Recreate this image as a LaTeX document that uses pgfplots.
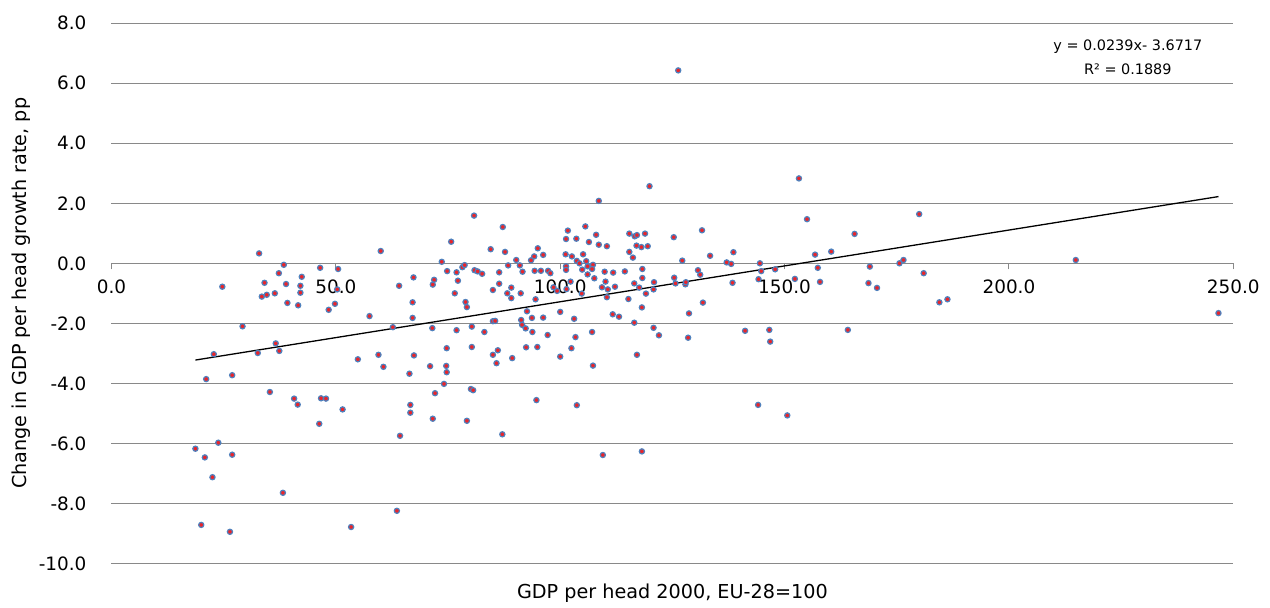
\documentclass[border=0pt]{standalone}
\usepackage{fontspec}
\setmainfont{DejaVu Sans}
\usepackage{pgfplots}
\pgfplotsset{compat=1.18}
\usetikzlibrary{calc}
\definecolor{ptfill}{RGB}{232,37,43}
\definecolor{ptdraw}{RGB}{79,129,189}
\definecolor{gridc}{RGB}{137,137,137}
\pgfplotstableread{
x y
32.9 0.33
38.4 -0.05
37.3 -0.33
46.5 -0.15
50.5 -0.19
42.4 -0.45
24.7 -0.78
34.1 -0.65
38.9 -0.69
42.1 -0.75
42.1 -0.98
33.5 -1.11
34.6 -1.05
36.4 -1.00
39.2 -1.32
41.6 -1.40
48.4 -1.55
49.8 -1.35
50.3 -0.87
29.2 -2.10
36.6 -2.67
32.6 -2.99
37.4 -2.92
22.8 -3.03
54.9 -3.20
21.1 -3.86
26.9 -3.73
35.3 -4.29
40.7 -4.51
41.5 -4.71
46.7 -4.50
47.8 -4.51
51.5 -4.87
46.3 -5.35
18.7 -6.18
23.8 -5.98
20.8 -6.47
26.9 -6.38
22.5 -7.13
38.2 -7.65
20.0 -8.72
26.4 -8.95
53.4 -8.79
60.0 0.41
75.7 0.72
84.5 0.47
73.6 0.05
67.3 -0.47
64.1 -0.75
71.9 -0.55
71.6 -0.71
74.8 -0.26
76.9 -0.30
78.2 -0.13
78.7 -0.06
77.2 -0.58
80.9 -0.23
81.6 -0.27
82.6 -0.35
86.4 -0.30
86.4 -0.68
85.0 -0.89
76.5 -1.00
78.9 -1.29
79.2 -1.46
67.1 -1.30
57.5 -1.76
67.1 -1.82
62.7 -2.13
71.5 -2.16
76.9 -2.23
80.3 -2.11
83.1 -2.29
85.0 -1.93
85.5 -1.92
59.5 -3.05
60.6 -3.45
67.4 -3.07
66.4 -3.68
71.0 -3.43
74.7 -2.83
74.6 -3.42
74.7 -3.63
80.3 -2.79
85.0 -3.05
86.1 -2.90
85.8 -3.33
74.1 -4.02
72.1 -4.33
80.1 -4.19
80.6 -4.23
66.6 -4.72
66.6 -4.98
71.6 -5.18
79.2 -5.25
64.3 -5.75
87.1 -5.70
63.6 -8.25
80.8 1.59
108.6 2.08
87.2 1.21
101.7 1.09
105.6 1.23
108.0 0.95
101.3 0.81
103.6 0.82
106.4 0.71
108.6 0.62
110.4 0.57
87.7 0.38
95.0 0.50
94.2 0.23
96.2 0.28
93.5 0.10
90.2 0.11
88.4 -0.07
91.0 -0.07
91.6 -0.28
94.3 -0.25
95.7 -0.25
97.3 -0.25
97.8 -0.33
101.2 0.30
102.6 0.23
101.3 -0.10
101.3 -0.22
103.7 0.08
105.1 0.30
104.3 0.00
104.9 -0.21
105.8 0.07
106.1 -0.10
107.3 -0.05
107.1 -0.19
106.1 -0.37
107.6 -0.50
109.9 -0.28
111.8 -0.31
110.1 -0.61
109.3 -0.80
110.6 -0.87
112.2 -0.78
110.4 -1.13
104.8 -1.01
102.3 -0.61
101.4 -0.86
99.3 -0.92
98.5 -0.80
89.1 -0.81
88.2 -1.00
89.1 -1.16
91.2 -1.00
94.5 -1.20
92.6 -1.60
93.7 -1.82
96.2 -1.81
100.0 -1.62
103.1 -1.85
91.3 -1.89
91.5 -2.05
92.3 -2.17
93.8 -2.29
97.2 -2.39
103.4 -2.46
107.1 -2.29
111.7 -1.70
113.1 -1.78
89.3 -3.16
92.4 -2.80
94.9 -2.79
100.0 -3.11
102.5 -2.83
107.3 -3.41
94.7 -4.56
103.7 -4.73
119.9 2.57
115.4 0.99
116.6 0.90
117.1 0.94
118.9 0.99
125.3 0.87
131.6 1.10
115.4 0.38
116.2 0.19
117.0 0.59
118.1 0.54
119.5 0.57
127.2 0.09
133.4 0.25
138.6 0.37
137.1 0.03
138.1 -0.02
138.4 -0.65
114.4 -0.27
118.3 -0.19
118.3 -0.49
116.5 -0.67
117.6 -0.81
120.9 -0.63
120.8 -0.87
119.1 -1.01
125.4 -0.48
125.7 -0.67
127.9 -0.70
128.0 -0.63
130.7 -0.23
131.2 -0.38
115.2 -1.19
118.2 -1.47
131.8 -1.31
116.5 -1.98
120.8 -2.15
122.0 -2.40
128.7 -1.67
128.5 -2.48
117.1 -3.05
109.5 -6.39
118.2 -6.27
126.3 6.43
153.2 2.83
155.0 1.47
165.6 0.98
180.0 1.64
144.5 0.00
144.8 -0.26
144.2 -0.53
147.9 -0.20
152.3 -0.52
156.8 0.29
157.4 -0.15
157.9 -0.62
160.4 0.39
168.7 -0.66
169.0 -0.11
170.6 -0.82
175.6 0.00
176.5 0.11
141.2 -2.25
146.6 -2.22
146.8 -2.61
164.1 -2.22
144.1 -4.72
150.6 -5.07
181.0 -0.33
184.5 -1.30
186.3 -1.20
214.9 0.11
246.7 -1.66
}\gdpdata
\begin{document}
\begin{tikzpicture}
\begin{axis}[
  scale only axis, width=560.9pt, height=270pt,
  xmin=0, xmax=250, ymin=-10, ymax=8,
  axis x line=middle, axis y line=left,
  x axis line style={-, draw=gridc, line width=0.55pt},
  y axis line style={draw=none},
  hide obscured x ticks=false,
  xtick={0,50,...,250}, ytick={-10,-8,...,8},
  xtick align=outside,
  major tick length=3pt,
  x tick style={draw=gridc, line width=0.55pt},
  ytick style={draw=none},
  ymajorgrids, grid style={draw=gridc, line width=0.55pt},
  tick label style={font=\fontsize{9.2}{11}\selectfont},
  /pgf/number format/fixed, /pgf/number format/fixed zerofill,
  /pgf/number format/precision=1, /pgf/number format/assume math mode=true,
  scaled ticks=false,
  yticklabel style={xshift=-7.5pt},
  xticklabel style={yshift=-1.75pt},
  xlabel={GDP per head 2000, EU-28=100},
  ylabel={Change in GDP per head growth rate, pp},
  every axis x label/.style={at={(axis description cs:0.5,0)}, anchor=north, yshift=-7pt, font=\fontsize{9.6}{11}\selectfont},
  every axis y label/.style={at={(axis description cs:0,0.5)}, xshift=-45.25pt, rotate=90, anchor=center, font=\fontsize{9.6}{11}\selectfont},
  clip=false,
]
\addplot[only marks, mark=*, mark size=1.3pt, mark options={fill=ptfill, draw=ptdraw, line width=0.6pt}] table[x=x, y=y] {\gdpdata};
\addplot[black, line width=0.65pt, no marks] coordinates {(18.7,-3.2248) (246.7,2.2244)};
\node[align=center, font=\fontsize{7.2}{11.65}\selectfont] at (rel axis cs:0.906,0.937) {y = 0.0239x- 3.6717\\R² = 0.1889};
\coordinate (sw) at (rel axis cs:0,0);
\coordinate (ne) at (rel axis cs:1,1);
\end{axis}
\pgfresetboundingbox
\path ($(sw)+(-55.75pt,-21.85pt)$) rectangle ($(ne)+(18.35pt,11.65pt)$);
\end{tikzpicture}
\end{document}
